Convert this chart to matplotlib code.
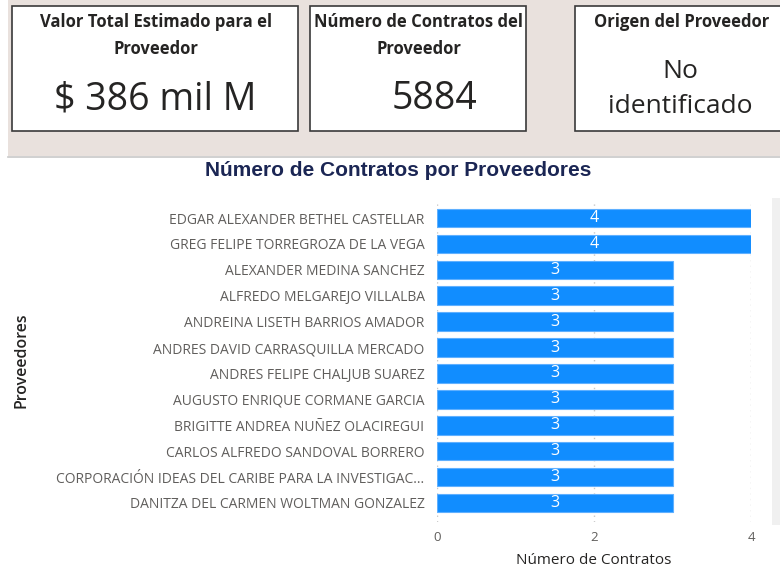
import matplotlib
matplotlib.use('Agg')
import matplotlib.pyplot as plt
from matplotlib.patches import Rectangle

proveedores = [
    "EDGAR ALEXANDER BETHEL CASTELLAR",
    "GREG FELIPE TORREGROZA DE LA VEGA",
    "ALEXANDER MEDINA SANCHEZ",
    "ALFREDO MELGAREJO VILLALBA",
    "ANDREINA LISETH BARRIOS AMADOR",
    "ANDRES DAVID CARRASQUILLA MERCADO",
    "ANDRES FELIPE CHALJUB SUAREZ",
    "AUGUSTO ENRIQUE CORMANE GARCIA",
    "BRIGITTE ANDREA NUÑEZ OLACIREGUI",
    "CARLOS ALFREDO SANDOVAL BORRERO",
    "CORPORACIÓN IDEAS DEL CARIBE PARA LA INVESTIGAC...",
    "DANITZA DEL CARMEN WOLTMAN GONZALEZ",
]
contratos = [4, 4, 3, 3, 3, 3, 3, 3, 3, 3, 3, 3]
x_ticks = [0, 2, 4]

card_titles = ["Valor Total Estimado para el\nProveedor",
               "Número de Contratos del\nProveedor",
               "Origen del Proveedor"]
card_values = ["$ 386 mil M", "5884", "No\nidentificado"]

W, H = 780, 570
fig = plt.figure(figsize=(W / 100, H / 100), dpi=100)
fig.patch.set_facecolor('white')

# background layer in pixel coordinates
bg = fig.add_axes([0, 0, 1, 1])
bg.set_xlim(0, W)
bg.set_ylim(H, 0)
bg.axis('off')
bg.add_patch(Rectangle((8, 0), W - 8, 156, facecolor='#E9E1DD', edgecolor='none'))
bg.plot([8, W], [157, 157], color='#C8C8C8', lw=1.2)

cards = [(12, 6, 286, 125), (310, 6, 216, 125), (575, 6, 215, 125)]
title_x = [156, 419, 682]
for (x, y, w, h), tx, t in zip(cards, title_x, card_titles):
    bg.add_patch(Rectangle((x, y), w, h, facecolor='white', edgecolor='#3A3A3A', lw=1.2))
    bg.text(tx, 13, t, ha='center', va='top', fontsize=12, fontweight='bold',
            family='Open Sans', color='#252423', linespacing=1.62)
value_x = [155, 435]
for vx, v in zip(value_x, card_values[:2]):
    bg.text(vx, 99, v, ha='center', va='center', fontsize=27,
            family='Open Sans', color='#252423')
bg.text(680, 89, card_values[2], ha='center', va='center', fontsize=19,
        family='Open Sans', color='#252423', linespacing=1.5)

# scrollbar strip on the right
bg.add_patch(Rectangle((772, 198), 10, 327, facecolor='#F0F0F0', edgecolor='none'))

bg.text(398, 171, "Número de Contratos por Proveedores", ha='center', va='center',
        fontsize=15, fontweight='bold', family='Liberation Sans', color='#1B2654')

# chart
ax = fig.add_axes([437 / W, 1 - 522.4 / H, (751 - 437) / W, 321.2 / H])
ax.set_facecolor('none')
y = list(range(len(proveedores)))
bars = ax.barh(y, contratos, height=0.72, color='#118DFF', edgecolor='#5FB0FF', lw=0.8, zorder=3)
ax.bar_label(bars, labels=[str(c) for c in contratos], label_type='center',
             color='white', fontsize=11.5, family='Open Sans')
ax.set_xlim(0, 4)
ax.set_ylim(11.75, -0.65)
ax.set_yticks(y)
ax.set_yticklabels(proveedores, fontsize=10, family='Open Sans', color='#605E5C')
ax.set_xticks(x_ticks)
ax.set_xticklabels([str(t) for t in x_ticks], fontsize=9.5, family='Open Sans', color='#605E5C')
ax.tick_params(length=0, pad=9)
ax.tick_params(axis='x', pad=6)
for s in ax.spines.values():
    s.set_visible(False)
ax.grid(axis='x', linestyle=(0, (1, 3)), color='#C8C8C8', lw=1, zorder=0)
ax.set_xlabel("Número de Contratos", fontsize=11, family='Open Sans', color='#252423', labelpad=7)

fig.text(22 / W, 1 - 360 / H, "Proveedores", rotation=90, ha='center', va='center',
         fontsize=11.5, family='Open Sans', fontweight='semibold', color='#252423')

fig.savefig('out.png', dpi=100)
